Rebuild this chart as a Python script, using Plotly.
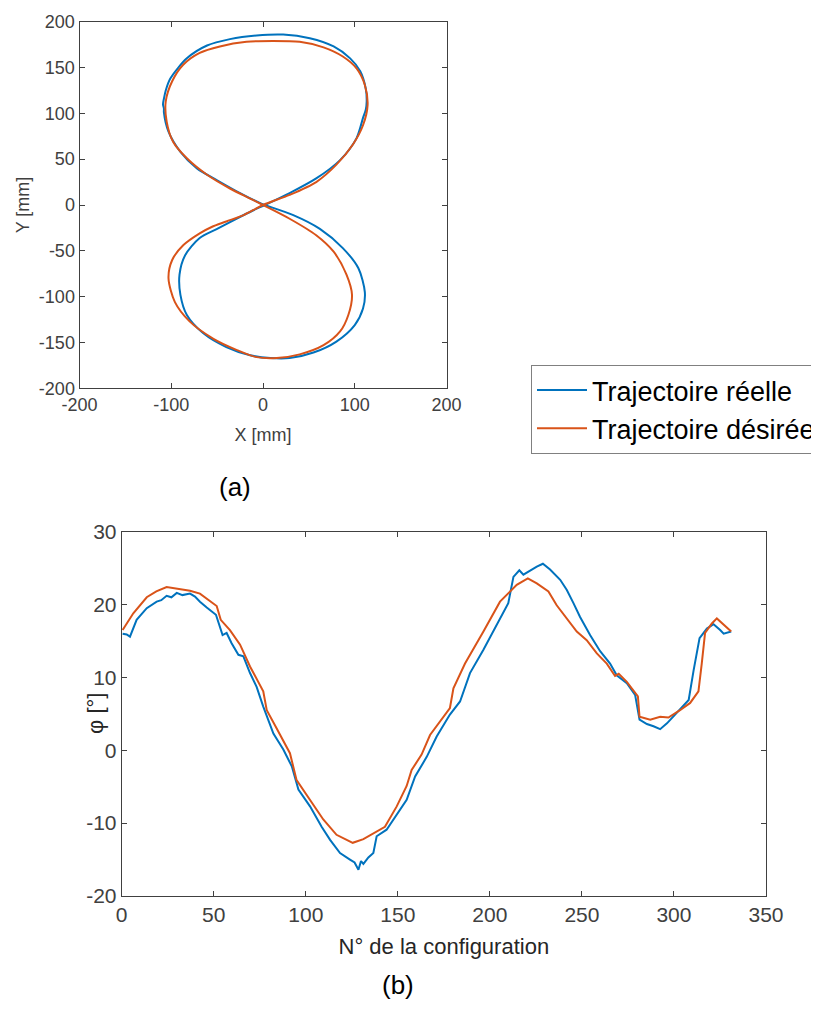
import plotly.graph_objects as go

# --- (a) trajectory in the XY plane ---
x_reelle = [2, 29, 58, 84, 102, 109, 112, 113, 112, 106, 95, 77, 51, 22, -7, -36, -61, -83,
            -101, -106, -108, -109, -108, -108, -103, -90, -72, -50, -25, -3,
            2, 33, 62, 87, 104, 111, 109, 100, 80, 55, 29, 8, -14, -40, -65, -83, -90,
            -91, -85, -69, -50, -29, -11, 2]
y_reelle = [0, 13, 29, 49, 73, 95, 104, 113, 127, 146, 160, 173, 182, 186, 185, 181, 174, 160,
            138, 125, 116, 110, 105, 101, 80, 58, 40, 27, 13, 2,
            0, -11, -26, -47, -69, -95, -113, -131, -149, -161, -167, -167, -164, -155, -140,
            -120, -98, -76, -55, -36, -26, -15, -6, 0]

x_desiree = [0, 29, 58, 80, 98, 109, 114, 111, 102, 87, 66, 40, 11, -18, -47, -69, -87, -99,
             -106, -105, -98, -83, -61, -36, -14, 0,
             29, 58, 77, 91, 97, 93, 84, 66, 40, 15, -7, -29, -54, -80, -96, -103, -99,
             -87, -69, -56, -40, -21, 0]
y_desiree = [0, 11, 25, 44, 66, 87, 109, 131, 149, 162, 172, 178, 179, 178, 173, 166, 153, 135,
             113, 91, 69, 51, 33, 18, 7, 0,
             -15, -33, -51, -76, -98, -120, -138, -153, -163, -167, -166, -158, -146, -127,
             -106, -80, -60, -44, -31, -24, -18, -11, 0]

xy_ticks = [-200, -150, -100, -50, 0, 50, 100, 150, 200]

# --- (b) phi versus configuration number ---
n_reelle = [0.5, 2.7, 4.5, 8.1, 13.6, 16.0, 19.0, 21.5, 24.4, 27.0, 29.9, 33.0, 37.1, 39.8,
            42.5, 46.2, 51.2, 54.8, 57.0, 59.7, 63.4, 66.1, 69.7, 73.3, 76.9, 82.4, 87.8,
            92.4, 96.0, 102.3, 108.6, 113.2, 118.6, 124.0, 126.5, 128.6, 130.0, 131.3,
            134.0, 136.7, 138.5, 143.9, 149.4, 154.8, 159.4, 165.7, 171.1, 178.3, 183.8,
            189.2, 196.5, 201.9, 210.0, 212.8, 216.0, 218.2, 221.8, 225.5, 228.8, 232.7,
            238.2, 241.8, 245.4, 249.0, 254.5, 259.9, 265.3, 268.9, 274.4, 278.9, 281.3,
            285.3, 288.9, 292.5, 296.2, 301.6, 308.0, 310.7, 313.9, 317.9, 321.5, 325.1,
            327.0, 331.1]
phi_reelle = [16.0, 15.9, 15.6, 17.9, 19.5, 19.9, 20.4, 20.6, 21.2, 21.0, 21.6, 21.3, 21.5,
              21.1, 20.4, 19.6, 18.6, 15.8, 16.1, 14.7, 13.1, 12.9, 10.6, 8.7, 6.0, 2.3,
              0.1, -2.2, -5.4, -7.7, -10.5, -12.3, -14.1, -15.0, -15.4, -16.4, -15.2,
              -15.6, -14.7, -14.1, -11.8, -10.9, -8.9, -6.8, -3.6, -0.9, 1.9, 4.9, 6.7,
              10.6, 13.8, 16.3, 20.2, 23.8, 24.7, 24.1, 24.7, 25.2, 25.6, 24.8, 23.4, 22.0,
              20.2, 18.3, 15.8, 13.6, 11.9, 10.3, 9.2, 7.6, 4.2, 3.6, 3.3, 2.9, 3.7, 5.1,
              6.9, 11.0, 15.4, 16.7, 17.3, 16.5, 16.0, 16.3]

n_desiree = [0.5, 6.3, 13.6, 18.8, 24.4, 29.9, 37.1, 42.5, 48.0, 51.6, 53.8, 58.8, 64.3, 69.7,
             76.9, 78.8, 84.2, 91.4, 95.0, 102.3, 109.5, 116.7, 125.5, 131.3, 138.5, 143.0,
             149.4, 154.8, 157.5, 162.9, 167.5, 174.7, 178.3, 180.2, 186.5, 196.5, 205.5,
             214.6, 220.6, 225.5, 231.8, 236.3, 243.6, 247.2, 252.6, 258.1, 263.5, 268.0,
             270.0, 274.4, 280.4, 281.3, 287.1, 292.5, 297.0, 303.3, 308.8, 313.3, 315.1,
             316.9, 320.6, 323.3, 331.1]
phi_desiree = [16.5, 18.8, 21.0, 21.8, 22.4, 22.2, 21.9, 21.5, 20.4, 19.8, 17.9, 16.5, 14.5, 11.5,
               8.1, 5.5, 3.0, -0.4, -4.1, -6.8, -9.5, -11.6, -12.7, -12.2, -11.1, -10.5,
               -7.7, -4.9, -2.7, -0.6, 2.1, 4.6, 5.8, 8.5, 11.9, 16.3, 20.4,
               22.7, 23.6, 22.9, 21.8, 19.9, 17.4, 16.3, 15.1, 13.3, 11.9, 10.2,
               10.5, 9.4, 7.4, 4.6, 4.2, 4.6, 4.5, 5.5, 6.5, 8.1, 11.9,
               16.1, 17.4, 18.1, 16.3]

n_ticks = [0, 50, 100, 150, 200, 250, 300, 350]
phi_ticks = [-20, -10, 0, 10, 20, 30]

BLUE = "#0072BD"
ORANGE = "#D95319"
AX = "#404040"
FONT = "Liberation Sans, Arial, sans-serif"
W, H = 819, 1011
OFF = 8  # the page body adds an 8px margin around the plot div

fig = go.Figure()
fig.add_trace(go.Scatter(x=x_reelle, y=y_reelle, mode="lines", name="Trajectoire réelle",
                         line=dict(color=BLUE, width=2, shape="spline", smoothing=0.8),
                         xaxis="x", yaxis="y"))
fig.add_trace(go.Scatter(x=x_desiree, y=y_desiree, mode="lines", name="Trajectoire désirée",
                         line=dict(color=ORANGE, width=2, shape="spline", smoothing=0.8),
                         xaxis="x", yaxis="y"))
fig.add_trace(go.Scatter(x=n_reelle, y=phi_reelle, mode="lines", showlegend=False,
                         line=dict(color=BLUE, width=2), xaxis="x2", yaxis="y2"))
fig.add_trace(go.Scatter(x=n_desiree, y=phi_desiree, mode="lines", showlegend=False,
                         line=dict(color=ORANGE, width=2), xaxis="x2", yaxis="y2"))


def fx(px):
    return (px - OFF) / W


def fy(py):
    return (H - (py - OFF)) / H


def axis_style(size, ticks, **kw):
    d = dict(showline=True, linecolor=AX, linewidth=1, mirror="ticks", ticks="inside",
             ticklen=5, tickcolor=AX, showgrid=False, zeroline=False, automargin=False,
             tickvals=ticks, ticktext=[str(t) for t in ticks],
             tickfont=dict(family=FONT, size=size, color=AX))
    d.update(kw)
    return d


fig.update_layout(
    width=W, height=H,
    margin=dict(l=0, r=0, t=0, b=0),
    paper_bgcolor="white", plot_bgcolor="white",
    font=dict(family=FONT, color=AX),
    xaxis=axis_style(18, xy_ticks[::2], domain=[fx(79.5), fx(446.5)], range=[-200, 200],
                     anchor="y", title=dict(text="X [mm]", font=dict(size=18, color=AX), standoff=14)),
    yaxis=axis_style(18, xy_ticks, domain=[fy(388.3), fy(21.7)], range=[-200, 200],
                     anchor="x", title=dict(text="Y [mm]", font=dict(size=18, color=AX), standoff=4)),
    xaxis2=axis_style(21, n_ticks, domain=[fx(121.7), fx(766)], range=[0, 350],
                      anchor="y2", title=dict(text="N° de la configuration",
                                              font=dict(size=22, color="#262626"), standoff=13)),
    yaxis2=axis_style(21, phi_ticks, domain=[fy(896), fy(531.7)], range=[-20, 30],
                      anchor="x2"),
    legend=dict(x=fx(531), y=fy(365), xanchor="left", yanchor="top", itemwidth=50,
                bordercolor="#808080", borderwidth=1, bgcolor="white",
                font=dict(family=FONT, size=27, color="black"), tracegroupgap=0),
    annotations=[
        dict(text="φ [°]", textangle=-90, x=fx(95), y=fy(714), xref="paper", yref="paper",
             xanchor="center", yanchor="middle", showarrow=False,
             font=dict(family=FONT, size=22, color="#262626")),
        dict(text="(a)", x=fx(235), y=fy(487), xref="paper", yref="paper",
             xanchor="center", yanchor="middle",
             showarrow=False, font=dict(family=FONT, size=26, color="black")),
        dict(text="(b)", x=fx(398), y=fy(985), xref="paper", yref="paper",
             xanchor="center", yanchor="middle",
             showarrow=False, font=dict(family=FONT, size=26, color="black")),
    ],
)

fig.write_html("out.html")
